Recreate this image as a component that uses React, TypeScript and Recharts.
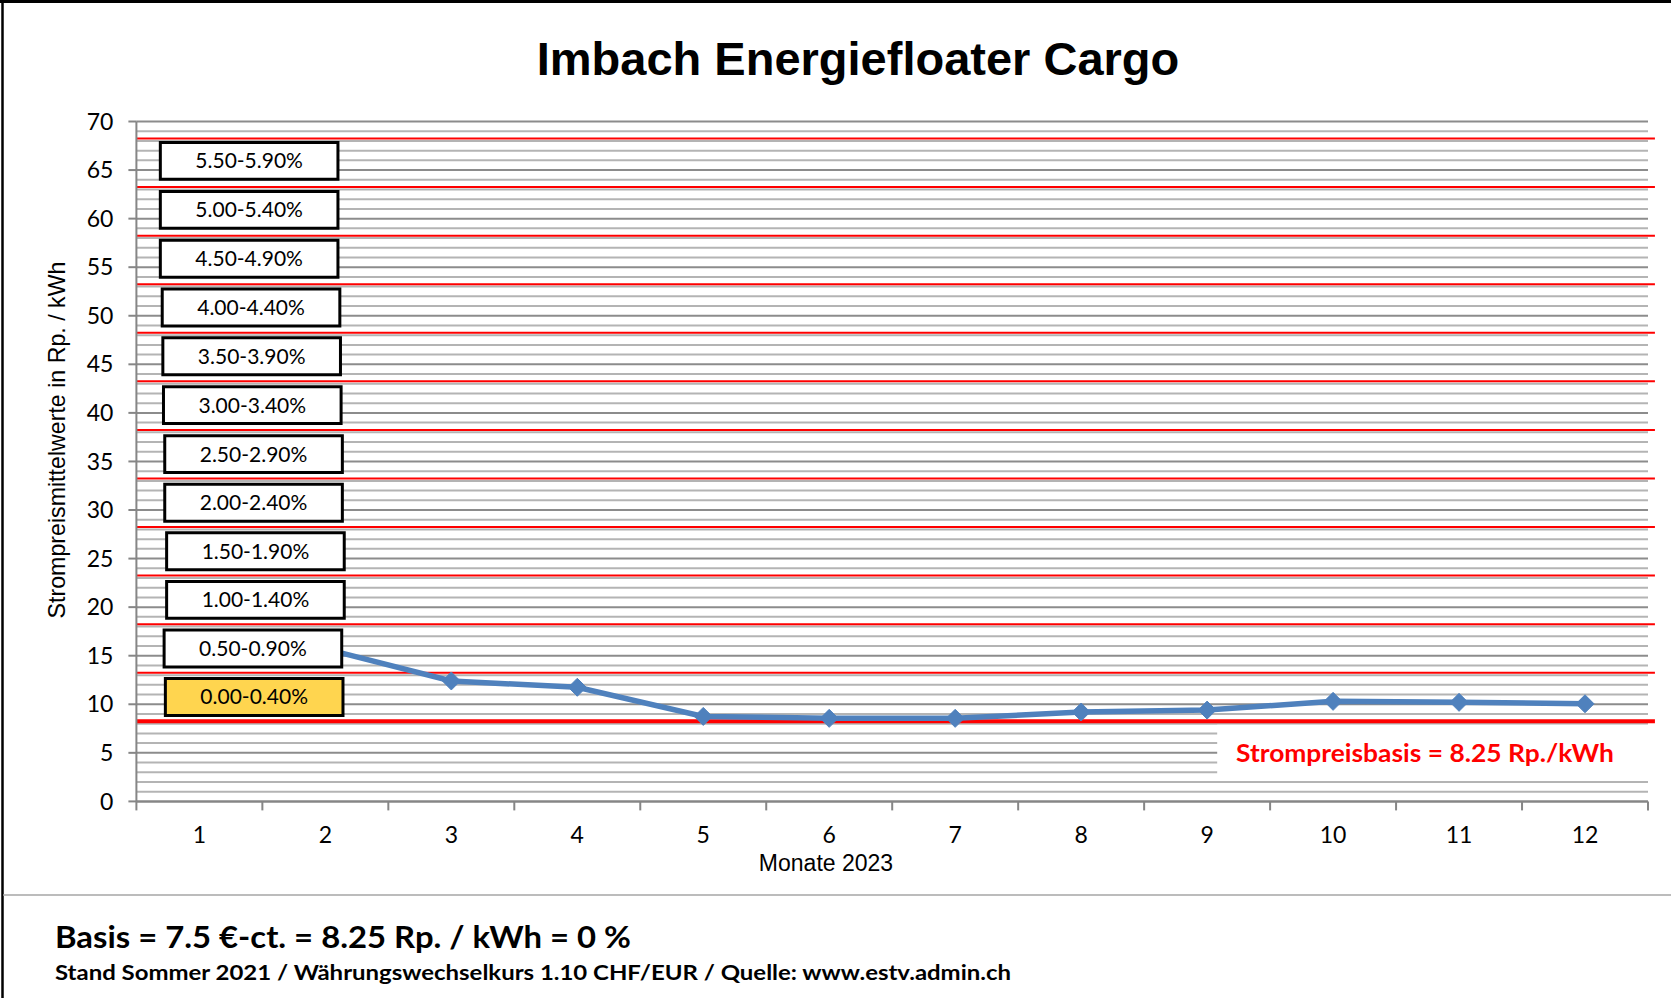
import React from "react";
import { LineChart, Line, XAxis, YAxis, ReferenceLine, ReferenceArea } from "recharts";

// ---- data ----
const months = [1, 2, 3, 4, 5, 6, 7, 8, 9, 10, 11, 12];
const prices = [16.3, 15.7, 12.4, 11.75, 8.75, 8.55, 8.55, 9.2, 9.4, 10.3, 10.2, 10.05];
const yTicks = [0, 5, 10, 15, 20, 25, 30, 35, 40, 45, 50, 55, 60, 65, 70];
const xTickPositions = [0.5, 1, 1.5, 2, 2.5, 3, 3.5, 4, 4.5, 5, 5.5, 6, 6.5, 7, 7.5, 8, 8.5, 9, 9.5, 10, 10.5, 11, 11.5, 12, 12.5];
const bandLabels = ["0.00-0.40%", "0.50-0.90%", "1.00-1.40%", "1.50-1.90%", "2.00-2.40%", "2.50-2.90%", "3.00-3.40%", "3.50-3.90%", "4.00-4.40%", "4.50-4.90%", "5.00-5.40%", "5.50-5.90%"];
const bandLowers = [8.25, 13.25, 18.25, 23.25, 28.25, 33.25, 38.25, 43.25, 48.25, 53.25, 58.25, 63.25];
const redLines = [8.25, 13.25, 18.25, 23.25, 28.25, 33.25, 38.25, 43.25, 48.25, 53.25, 58.25, 63.25, 68.25];
const basisValue = 8.25;

// layout only: small horizontal drift of the label boxes (in category units)
const boxShift = [0.04, 0.03, 0.05, 0.05, 0.035, 0.035, 0.025, 0.02, 0.015, 0.0, 0.0, 0.0];
const boxRise = [0, 0, 0, 0, 0, 0, 0.05, 0.08, 0.1, 0.12, 0.15, 0.2];

const data = months.map((m, i) => ({ month: m, price: prices[i] }));
const gridValues = Array.from({ length: 71 }, (_, i) => i);

const W = 1671;
const H = 998;

const Diamond = (props: any) => {
  const { cx, cy } = props;
  if (cx == null || cy == null) return null;
  const s = 9;
  return <polygon points={`${cx},${cy - s} ${cx + s},${cy} ${cx},${cy + s} ${cx - s},${cy}`} fill="#4F81BD" stroke="#4F81BD" strokeWidth={1} />;
};

const XTick = (props: any) => {
  const { x, y, payload } = props;
  const v = payload.value;
  if (Number.isInteger(v)) {
    return (
      <text x={x} y={y + 33} textAnchor="middle" dominantBaseline="central" fontSize={23} fontFamily="Lato" fill="#000">
        {v}
      </text>
    );
  }
  return <line x1={x} x2={x} y1={y} y2={y + 9} stroke="#868686" strokeWidth={2} />;
};

export default function App() {
  return (
    <div style={{ position: "absolute", left: 0, top: 0, width: W, height: H, background: "#fff" }}>
      <div style={{ position: "absolute", left: 0, top: 0 }}>
        <LineChart
          width={W}
          height={H}
          data={data}
          margin={{ top: 121.5, right: 23, bottom: 136.6, left: 76.4 }}
        >
          <XAxis
            dataKey="month"
            type="number"
            domain={[0.5, 12.5]}
            ticks={xTickPositions}
            interval={0}
            tick={<XTick />}
            tickLine={false}
            tickSize={0}
            tickMargin={0}
            height={60}
            axisLine={{ stroke: "#868686", strokeWidth: 2 }}
            allowDecimals
          />
          <YAxis
            type="number"
            domain={[0, 70]}
            ticks={yTicks}
            interval={0}
            width={60}
            tickSize={8}
            tickMargin={15}
            tick={{ fontSize: 23, fontFamily: "Lato", fill: "#000" }}
            tickLine={{ stroke: "#868686", strokeWidth: 2 }}
            axisLine={{ stroke: "#868686", strokeWidth: 2 }}
          />
          {gridValues.map((v) => (
            <ReferenceLine
              key={"g" + v}
              y={v}
              stroke={v % 5 === 0 ? "#8C8C8C" : "#B4B4B4"}
              strokeWidth={2}
              zIndex={50}
              ifOverflow="visible"
            />
          ))}
          <ReferenceArea x1={9.08} x2={12.5} y1={2.5} y2={7.9} fill="#ffffff" fillOpacity={1} stroke="none" zIndex={60} />
          {redLines.map((v) => (
            <ReferenceLine
              key={"r" + v}
              segment={[{ x: 0.5, y: v }, { x: 12.555, y: v }]}
              stroke="#FF0000"
              strokeWidth={v === basisValue ? 4 : 2}
              zIndex={70}
              ifOverflow="visible"
            />
          ))}
          <Line
            type="linear"
            dataKey="price"
            stroke="#4F81BD"
            strokeWidth={5.5}
            dot={<Diamond />}
            activeDot={false}
            isAnimationActive={false}
            zIndex={400}
          />
          {bandLabels.map((lab, i) => (
            <ReferenceArea
              key={"b" + i}
              x1={0.69 + boxShift[i]}
              x2={2.1 + boxShift[i]}
              y1={bandLowers[i] + 0.6 + boxRise[i]}
              y2={bandLowers[i] + 4.4 + boxRise[i]}
              fill={i === 0 ? "#FFD54F" : "#ffffff"}
              fillOpacity={1}
              stroke="#000"
              strokeWidth={3}
              zIndex={1500}
              ifOverflow="visible"
              label={{ value: lab, position: "center", fontSize: 21, fontFamily: "Lato", fill: "#000", zIndex: 2000 }}
            />
          ))}
        </LineChart>
      </div>
      <svg width={W} height={H} style={{ position: "absolute", left: 0, top: 0, pointerEvents: "none" }}>
        <line x1={2.5} y1={0} x2={2.5} y2={H} stroke="#000" strokeWidth={2.5} />
        <line x1={0} y1={1.5} x2={W} y2={1.5} stroke="#000" strokeWidth={3} />
        <line x1={3} y1={895} x2={W} y2={895} stroke="#A6A6A6" strokeWidth={1.5} />
        <text x={858} y={75} textAnchor="middle" fontSize={47} fontWeight="bold" fontFamily="Liberation Sans, Arial" fill="#000">
          Imbach Energiefloater Cargo
        </text>
        <text
          x={0}
          y={0}
          transform="translate(56.5,440) rotate(-90)"
          textAnchor="middle"
          dominantBaseline="central"
          fontSize={23.2}
          fontFamily="Liberation Sans, Arial"
          fill="#000"
        >
          Strompreismittelwerte in Rp. / kWh
        </text>
        <text x={826} y={863} textAnchor="middle" dominantBaseline="central" fontSize={23} fontFamily="Liberation Sans, Arial" fill="#000">
          Monate 2023
        </text>
        <text x={1236} y={762} fontSize={25} fontWeight="bold" fontFamily="Lato" fill="#FF0000" textLength={378} lengthAdjust="spacingAndGlyphs">
          Strompreisbasis = 8.25 Rp./kWh
        </text>
        <text x={55} y={948} fontSize={30} fontWeight="bold" fontFamily="Lato" fill="#000" textLength={576} lengthAdjust="spacingAndGlyphs">
          Basis = 7.5 €-ct. = 8.25 Rp. / kWh = 0 %
        </text>
        <text x={55} y={980} fontSize={21} fontWeight="bold" fontFamily="Lato" fill="#000" textLength={956} lengthAdjust="spacingAndGlyphs">
          Stand Sommer 2021 / Währungswechselkurs 1.10 CHF/EUR / Quelle: www.estv.admin.ch
        </text>
      </svg>
    </div>
  );
}
